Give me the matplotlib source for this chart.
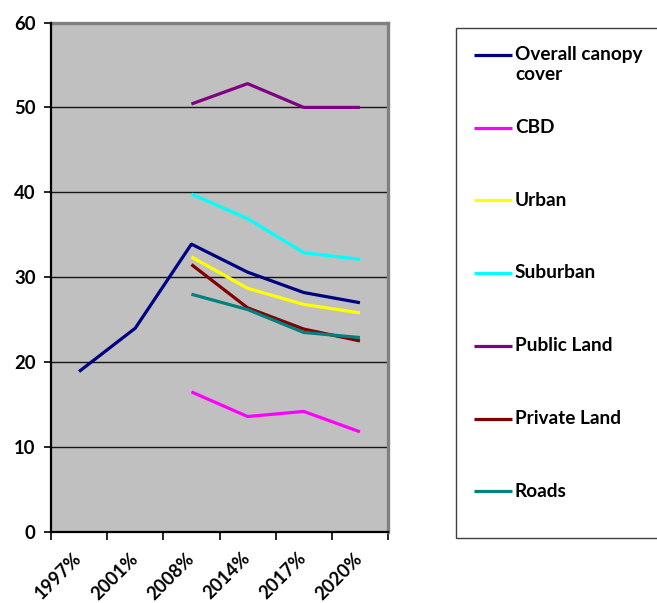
import matplotlib
matplotlib.use("Agg")
import matplotlib.pyplot as plt
from matplotlib.legend_handler import HandlerLine2D
import numpy as np

# Canopy cover (%) by year and land category
years = ["1997%", "2001%", "2008%", "2014%", "2017%", "2020%"]
overall = [18.9, 24.0, 33.9, 30.6, 28.2, 27.0]
cbd = [np.nan, np.nan, 16.5, 13.6, 14.2, 11.8]
urban = [np.nan, np.nan, 32.4, 28.7, 26.8, 25.8]
suburban = [np.nan, np.nan, 39.8, 36.9, 32.9, 32.1]
public_land = [np.nan, np.nan, 50.4, 52.8, 50.0, 50.0]
private_land = [np.nan, np.nan, 31.5, 26.4, 23.9, 22.5]
roads = [np.nan, np.nan, 28.0, 26.2, 23.5, 22.9]

series_names = ["Overall canopy\ncover", "CBD", "Urban", "Suburban",
                "Public Land", "Private Land", "Roads"]
series_values = [overall, cbd, urban, suburban, public_land, private_land, roads]
series_colors = ["#000080", "#FF00FF", "#FFFF00", "#00FFFF",
                 "#800080", "#800000", "#008080"]

plt.rcParams["font.family"] = ["Lato", "DejaVu Sans"]
plt.rcParams["font.weight"] = "bold"

W, H = 657, 603
fig = plt.figure(figsize=(W / 100, H / 100), dpi=100)
fig.patch.set_facecolor("white")

left, right, top, bottom = 51, 388, 22.5, 532
ax = fig.add_axes([left / W, 1 - bottom / H, (right - left) / W, (bottom - top) / H])
ax.set_facecolor("#C0C0C0")

x = np.arange(len(years))
lines = []
for name, vals, col in zip(series_names, series_values, series_colors):
    ln, = ax.plot(x, vals, color=col, lw=2.3, solid_joinstyle="round",
                  solid_capstyle="butt", label=name, zorder=3)
    lines.append(ln)

ax.set_ylim(0, 60)
ax.set_xlim(-0.5, len(years) - 0.5)

# y axis
ax.set_yticks(np.arange(0, 61, 10))
ax.tick_params(axis="y", length=5, width=1.2, direction="out", pad=6,
               labelsize=13.3, colors="black")
for t in ax.get_yticklabels():
    t.set_fontweight("bold")
ax.yaxis.grid(True, color="#151515", lw=1.0, zorder=1)
ax.set_axisbelow(True)

# x axis: tick marks between categories, labels at categories
ax.set_xticks(np.arange(-0.5, len(years), 1.0))
ax.set_xticklabels([])
ax.tick_params(axis="x", which="major", length=6, width=1.2, direction="out")
ax.set_xticks(x, minor=True)
ax.set_xticklabels(years, minor=True, rotation=45, ha="right", va="center",
                   rotation_mode="anchor", fontsize=13.2, fontweight="bold")
ax.tick_params(axis="x", which="minor", length=0, pad=17)

for side in ("top", "right"):
    ax.spines[side].set_color("#808080")
    ax.spines[side].set_linewidth(2.4)
for side in ("left", "bottom"):
    ax.spines[side].set_color("black")
    ax.spines[side].set_linewidth(1.6)
    ax.spines[side].set_zorder(5)

# legend: keep each swatch on the first text line
LEG_FS = 13.7
renderer = fig.canvas.get_renderer()
p1 = fig.text(0, 0, "Ag", fontsize=LEG_FS, fontweight="bold")
p2 = fig.text(0, 0, "Ag\nAg", fontsize=LEG_FS, fontweight="bold")
step_pt = (p2.get_window_extent(renderer).height
           - p1.get_window_extent(renderer).height) * 72 / fig.dpi
p1.remove()
p2.remove()


class RaisedLine(HandlerLine2D):
    def __init__(self, lift, **kw):
        super().__init__(**kw)
        self.lift = lift

    def create_artists(self, legend, orig_handle, xdescent, ydescent,
                       width, height, fontsize, trans):
        arts = super().create_artists(legend, orig_handle, xdescent, ydescent,
                                      width, height, fontsize, trans)
        for a in arts:
            a.set_ydata(np.asarray(a.get_ydata(), dtype=float) + self.lift)
        return arts


labels = [n if "\n" in n else n + "\n" for n in series_names]
handler = RaisedLine(step_pt / 2)
leg = fig.legend(lines, labels, loc="upper left",
                 bbox_to_anchor=(456 / W, 1 - 28 / H, 215 / W, 0),
                 mode="expand", borderaxespad=0, borderpad=0.95,
                 labelspacing=1.89, handlelength=2.0, handletextpad=0.15,
                 frameon=True, fancybox=False, framealpha=1,
                 edgecolor="#404040",
                 prop={"size": LEG_FS, "weight": "bold"},
                 handler_map={ln: handler for ln in lines})
leg.get_frame().set_linewidth(1.0)

fig.savefig("out.png", dpi=100, facecolor="white")
